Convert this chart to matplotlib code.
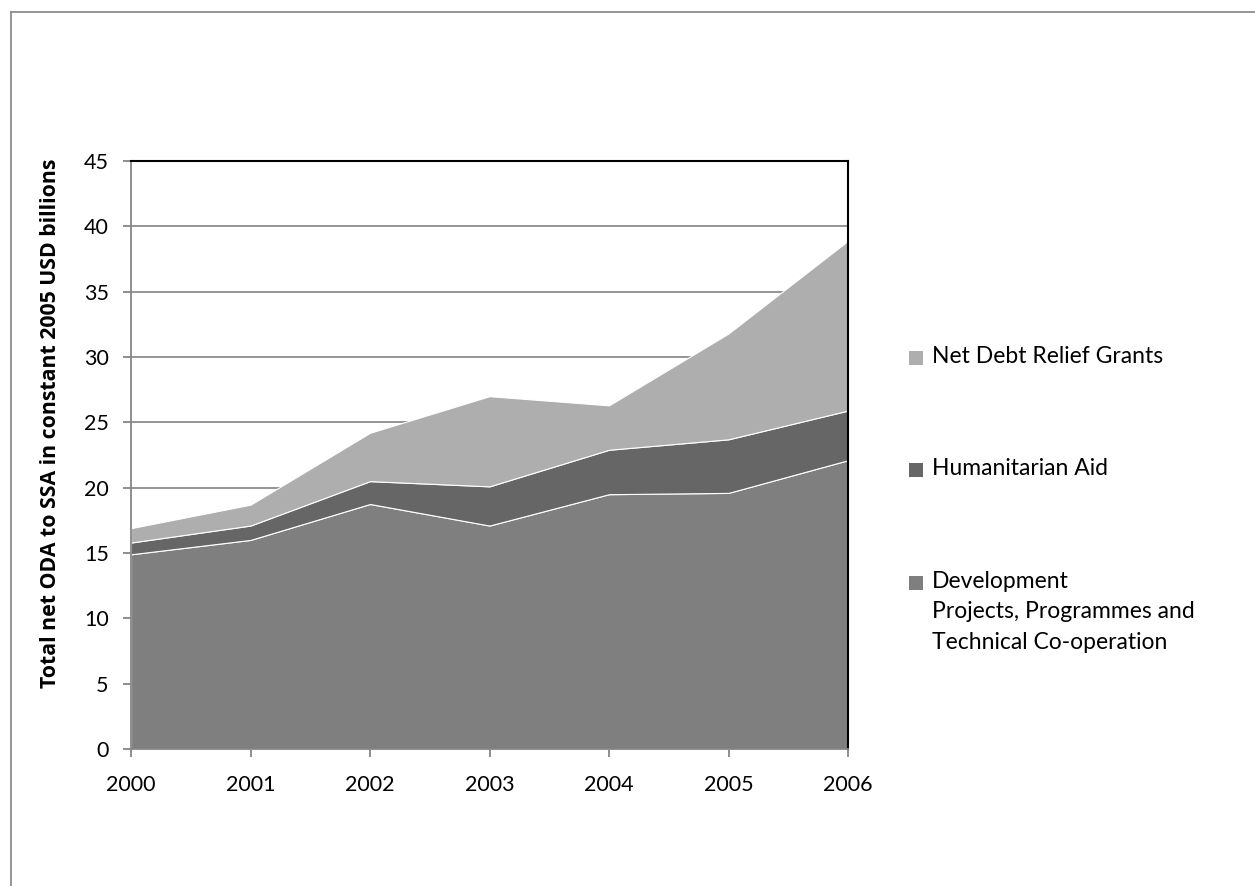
import matplotlib
matplotlib.use("Agg")
import matplotlib.pyplot as plt
from matplotlib.patches import Rectangle
from matplotlib.lines import Line2D

years = [2000, 2001, 2002, 2003, 2004, 2005, 2006]
development = [14.9, 16.0, 18.75, 17.1, 19.5, 19.6, 22.1]
humanitarian = [0.9, 1.1, 1.75, 3.0, 3.4, 4.1, 3.8]
debt_relief = [1.1, 1.6, 3.7, 6.9, 3.4, 8.1, 13.0]

labels = ["Development\nProjects, Programmes and\nTechnical Co-operation",
          "Humanitarian Aid",
          "Net Debt Relief Grants"]
colors = ["#7f7f7f", "#666666", "#aeaeae"]
yticks = [0, 5, 10, 15, 20, 25, 30, 35, 40, 45]

plt.rcParams['font.family'] = ['Lato', 'DejaVu Sans']

W, H = 1255, 886
fig = plt.figure(figsize=(W / 100, H / 100), dpi=100)
ax = fig.add_axes([131 / W, 1 - 749 / H, (848 - 131) / W, (749 - 161) / H])

ax.stackplot(years, development, humanitarian, debt_relief, colors=colors,
             edgecolor="white", linewidth=0.8, zorder=2)

ax.set_xlim(years[0], years[-1])
ax.set_ylim(0, 45)
ax.set_xticks(years)
ax.set_yticks(yticks)
ax.yaxis.grid(True, color="#8c8c8c", linewidth=1.3, zorder=0)
ax.set_axisbelow(True)

grey = "#868686"
ax.spines['left'].set_color(grey)
ax.spines['bottom'].set_color(grey)
ax.spines['left'].set_linewidth(1.3)
ax.spines['bottom'].set_linewidth(1.3)
ax.spines['top'].set_color("black")
ax.spines['right'].set_color("black")
ax.spines['top'].set_linewidth(1.5)
ax.spines['right'].set_linewidth(1.5)
ax.tick_params(axis='both', direction='out', color=grey, width=1.3, length=6,
               labelsize=15.5, labelcolor="black")
ax.tick_params(axis='x', pad=13)
ax.tick_params(axis='y', pad=10)

ax.set_ylabel("Total net ODA to SSA in constant 2005 USD billions",
              fontsize=15.3, fontweight='bold', family=['Open Sans', 'DejaVu Sans'])
ax.yaxis.set_label_coords(-(131 - 61) / (848 - 131), (749 - 423) / (749 - 161))

# legend (manual, matching reference placement)
leg_items = [(labels[2], colors[2], 358), (labels[1], colors[1], 470),
             (labels[0], colors[0], 583)]
for text, col, ypix in leg_items:
    fig.patches.append(Rectangle((909 / W, 1 - (ypix + 7) / H), 14 / W, 14 / H,
                                 transform=fig.transFigure, facecolor=col,
                                 edgecolor='none'))
    fig.text(932 / W, 1 - (ypix - 12) / H, text, fontsize=16.5, va='top', ha='left',
             linespacing=1.55)

# outer chart border (top and left visible)
fig.add_artist(Line2D([11 / W, 11 / W], [0, 1 - 12 / H], color="#8c8c8c",
                      linewidth=1.3, transform=fig.transFigure))
fig.add_artist(Line2D([11 / W, 1], [1 - 12 / H, 1 - 12 / H], color="#8c8c8c",
                      linewidth=1.3, transform=fig.transFigure))

fig.savefig("out.png", dpi=100)
